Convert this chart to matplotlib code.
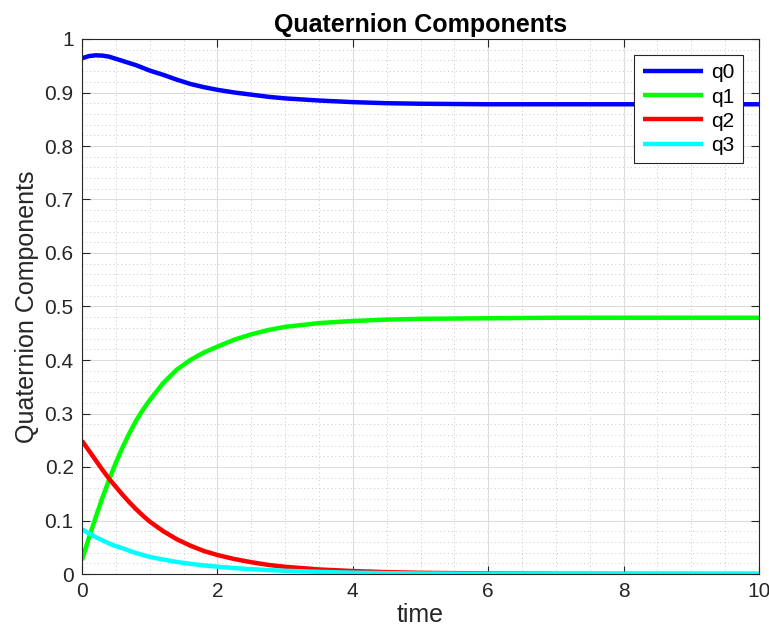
import numpy as np
import matplotlib
matplotlib.use("Agg")
import matplotlib.pyplot as plt
from matplotlib.ticker import MultipleLocator, FuncFormatter

plt.rcParams['font.family'] = ['Liberation Sans', 'DejaVu Sans']

# values
t = [0, 0.1, 0.2, 0.3, 0.4, 0.5, 0.6, 0.7, 0.8, 0.9, 1.0, 1.2, 1.4, 1.6,
     1.8, 2.0, 2.25, 2.5, 2.75, 3.0, 3.5, 4.0, 4.5, 5, 6, 7, 8, 9, 10]
q0 = [0.964, 0.968, 0.9695, 0.969, 0.967, 0.963, 0.959, 0.955, 0.951, 0.946,
      0.941, 0.933, 0.924, 0.916, 0.910, 0.905, 0.900, 0.896, 0.892, 0.889,
      0.885, 0.882, 0.880, 0.879, 0.878, 0.878, 0.878, 0.878, 0.878]
q1 = [0.026, 0.067, 0.105, 0.142, 0.176, 0.208, 0.237, 0.263, 0.287, 0.307,
      0.325, 0.357, 0.382, 0.400, 0.414, 0.425, 0.438, 0.448, 0.456, 0.462,
      0.469, 0.473, 0.4755, 0.477, 0.478, 0.479, 0.479, 0.479, 0.479]
q2 = [0.249, 0.231, 0.213, 0.195, 0.178, 0.163, 0.148, 0.134, 0.121, 0.109,
      0.098, 0.080, 0.065, 0.053, 0.043, 0.0355, 0.028, 0.022, 0.017, 0.0135,
      0.0085, 0.0055, 0.0035, 0.0022, 0.001, 0.0004, 0.0002, 0.0001, 0.0]
q3 = [0.0835, 0.076, 0.069, 0.063, 0.057, 0.052, 0.048, 0.0435, 0.039,
      0.0355, 0.032, 0.027, 0.0225, 0.019, 0.016, 0.0137, 0.011, 0.009,
      0.0073, 0.006, 0.004, 0.0025, 0.0016, 0.001, 0.0004, 0.0002, 0.0001,
      0.0, 0.0]

series = [(q0, 'q0', '#0000ff'), (q1, 'q1', '#00ff00'),
          (q2, 'q2', '#ff0000'), (q3, 'q3', '#00ffff')]

fig = plt.figure(figsize=(7.69, 6.38), dpi=100)
ax = fig.add_axes([82/769, 1-574/638, (759-82)/769, (574-39)/638])

for y, name, col in series:
    ax.plot(t, y, color=col, lw=3.2, label=name, solid_capstyle='butt',
            solid_joinstyle='round')

ax.set_xlim(0, 10)
ax.set_ylim(0, 1)
ax.xaxis.set_major_locator(MultipleLocator(2))
ax.xaxis.set_minor_locator(MultipleLocator(0.5))
ax.yaxis.set_major_locator(MultipleLocator(0.1))
ax.yaxis.set_minor_locator(MultipleLocator(0.02))
ax.yaxis.set_major_formatter(FuncFormatter(lambda v, p: '%g' % round(v, 2)))
ax.xaxis.set_major_formatter(FuncFormatter(lambda v, p: '%g' % v))

ax.grid(which='major', color='#dcdcdc', lw=0.8, ls='-')
ax.grid(which='minor', color='#c8c8c8', lw=0.7, ls=(0, (1, 3)))
ax.set_axisbelow(True)

dark = '#262626'
for s in ax.spines.values():
    s.set_color(dark)
    s.set_linewidth(0.8)
ax.tick_params(which='major', direction='in', top=True, right=True,
               length=6, width=0.8, color=dark, labelcolor=dark,
               labelsize=15, pad=6)
ax.tick_params(which='minor', length=0)

ax.set_title('Quaternion Components', fontsize=18, fontweight='bold',
             color='black', pad=5)
ax.set_xlabel('time', fontsize=18, color=dark, labelpad=1)
ax.set_ylabel('Quaternion Components', fontsize=18, color=dark, labelpad=4)

leg = ax.legend(loc='upper right', bbox_to_anchor=(743/769, 1-55/638),
                bbox_transform=fig.transFigure, borderaxespad=0,
                fancybox=False, framealpha=1, edgecolor=dark, fontsize=15,
                handlelength=2.9, handletextpad=0.4, labelspacing=0.25,
                borderpad=0.4)
leg.get_frame().set_linewidth(0.8)

fig.savefig('out.png', dpi=100)
